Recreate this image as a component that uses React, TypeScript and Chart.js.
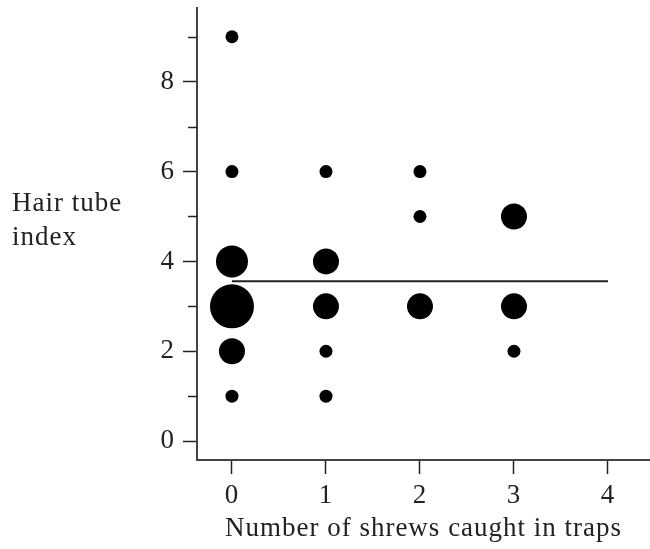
import React, { useEffect, useRef } from "react";
import { Chart, registerables } from "chart.js";

Chart.register(...registerables);

// Data
const xTickValues = [0, 1, 2, 3, 4];
const yMajorTicks = [0, 2, 4, 6, 8];
const yMinorTicks = [1, 3, 5, 7, 9];
const shrewsCaught = [0, 0, 0, 0, 0, 0, 1, 1, 1, 1, 1, 2, 2, 2, 3, 3, 3];
const hairTubeIndex = [9, 6, 4, 3, 2, 1, 6, 4, 3, 2, 1, 6, 5, 3, 5, 3, 2];
const sizeClass = [1, 1, 3, 4, 2, 1, 1, 2, 2, 1, 1, 1, 1, 2, 2, 2, 1];
const meanLineX = [0, 4];
const meanLineY = [3.56, 3.56];

const radiusBySize = [0, 6.5, 13, 16, 22];
const FONT = "'Liberation Serif', 'Times New Roman', serif";
const FONT_SIZE = 27;

export default function App() {
  const ref = useRef<HTMLCanvasElement | null>(null);

  useEffect(() => {
    document.body.style.margin = "0";
    const canvas = ref.current;
    if (!canvas) return;

    const bubbles = shrewsCaught.map((x, i) => ({
      x,
      y: hairTubeIndex[i],
      r: radiusBySize[sizeClass[i]],
    }));
    const meanLine = meanLineX.map((x, i) => ({ x, y: meanLineY[i] }));

    const extras = {
      id: "extras",
      beforeDraw(chart: any) {
        (chart.ctx as any).letterSpacing = "1px";
      },
      afterDraw(chart: any) {
        const ctx = chart.ctx as CanvasRenderingContext2D;
        const ys = chart.scales.y;
        const left = chart.chartArea.left;
        ctx.save();
        ctx.strokeStyle = "#222";
        ctx.lineWidth = 1.5;
        yMinorTicks.forEach((v) => {
          const py = Math.round(ys.getPixelForValue(v)) + 0.5;
          ctx.beginPath();
          ctx.moveTo(left - 9, py);
          ctx.lineTo(left, py);
          ctx.stroke();
        });
        ctx.fillStyle = "#222";
        ctx.font = `${FONT_SIZE}px ${FONT}`;
        (ctx as any).letterSpacing = "1px";
        ctx.textBaseline = "alphabetic";
        ctx.textAlign = "left";
        ctx.fillText("Hair tube", 12, 211);
        ctx.fillText("index", 12, 245);
        ctx.restore();
      },
    };

    const zeroPad = (s: any) => {
      s.paddingTop = 0;
      s.paddingBottom = 0;
      s.paddingLeft = 0;
      s.paddingRight = 0;
    };

    const chart = new Chart(canvas, {
      type: "bubble",
      data: {
        datasets: [
          {
            type: "line",
            data: meanLine,
            borderColor: "#222",
            borderWidth: 2,
            pointRadius: 0,
            fill: false,
          } as any,
          {
            type: "bubble",
            data: bubbles,
            backgroundColor: "#000",
            borderColor: "#000",
            borderWidth: 0,
            hoverRadius: 0,
          } as any,
        ],
      },
      options: {
        responsive: false,
        animation: false,
        layout: { padding: { top: 8, left: 0, right: 0, bottom: 0 } },
        plugins: {
          legend: { display: false },
          tooltip: { enabled: false },
        },
        scales: {
          x: {
            type: "linear",
            min: -0.372,
            max: 4.447,
            afterBuildTicks: (s: any) => {
              s.ticks = xTickValues.map((v) => ({ value: v }));
            },
            afterFit: (s: any) => {
              s.height = 89;
              zeroPad(s);
            },
            grid: {
              display: true,
              drawOnChartArea: false,
              drawTicks: true,
              tickLength: 14,
              tickColor: "#222",
              tickWidth: 1.5,
            },
            border: { display: true, color: "#444", width: 2 },
            ticks: {
              color: "#222",
              font: { family: FONT, size: FONT_SIZE },
              padding: 6,
              callback: (v: any) => String(v),
            },
            title: {
              display: true,
              text: "Number of shrews caught in traps",
              color: "#222",
              font: { family: FONT, size: FONT_SIZE },
              padding: { top: 0, bottom: 4 },
            },
          },
          y: {
            type: "linear",
            min: -0.42,
            max: 9.64,
            afterBuildTicks: (s: any) => {
              s.ticks = yMajorTicks.map((v) => ({ value: v }));
            },
            afterFit: (s: any) => {
              s.width = 197;
              zeroPad(s);
            },
            grid: {
              display: true,
              drawOnChartArea: false,
              drawTicks: true,
              tickLength: 14,
              tickColor: "#222",
              tickWidth: 1.5,
            },
            border: { display: true, color: "#444", width: 2 },
            ticks: {
              color: "#222",
              font: { family: FONT, size: FONT_SIZE },
              padding: 8,
              callback: (v: any) => String(v),
            },
          },
        },
      },
      plugins: [extras],
    } as any);

    // Bubbles may sit near the frame without forcing extra layout padding
    const bubbleController: any = chart.getDatasetMeta(1).controller;
    bubbleController.getMaxOverflow = () => 0;
    const lineController: any = chart.getDatasetMeta(0).controller;
    lineController.getMaxOverflow = () => 0;
    chart.update();

    return () => chart.destroy();
  }, []);

  return <canvas ref={ref} width={650} height={549} style={{ display: "block" }} />;
}
